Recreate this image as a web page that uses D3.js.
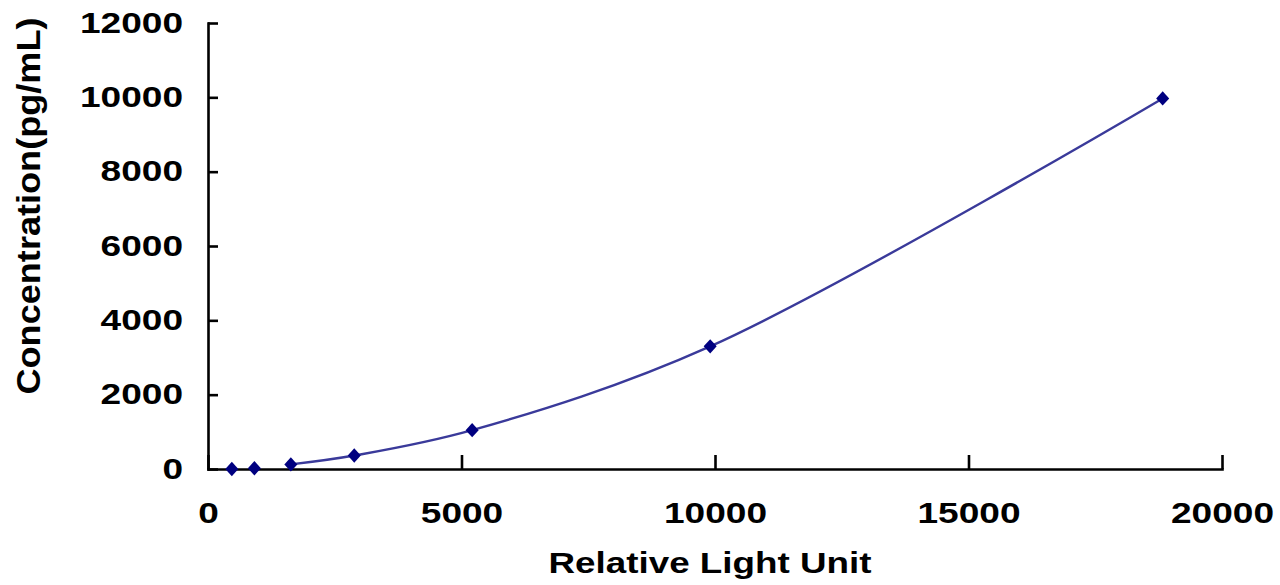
<!DOCTYPE html>
<html lang="en">
<head>
    <meta charset="UTF-8">
    <title>Standard curve</title>
    <style>
        body { margin: 0; background: #fff; }
        .axis path, .axis line { stroke: #000; stroke-width: 2.6; }
        .axis text { font-family: "Liberation Sans", Arial, sans-serif; font-weight: bold; font-size: 29px; fill: #000; }
        .title { font-family: "Liberation Sans", Arial, sans-serif; font-weight: bold; font-size: 29px; fill: #000; }
    </style>
</head>
<body>
    <div id="chart"></div>
    <script src="https://d3js.org/d3.v7.min.js"></script>
    <script>
        // values
        const rlu  = [470, 915, 1634, 2885, 5210, 9905, 18830];
        const conc = [0, 20, 123, 362, 1045, 3300, 9970];
        const xTicks = [0, 5000, 10000, 15000, 20000];
        const yTicks = [0, 2000, 4000, 6000, 8000, 10000, 12000];
        const xTitle = "Relative Light Unit";
        const yTitle = "Concentration(pg/mL)";

        const W = 1280, H = 585;
        const margin = { top: 23, right: 58, bottom: 116, left: 208 };

        const svg = d3.select("#chart")
            .append("svg")
            .attr("width", W)
            .attr("height", H);

        const x = d3.scaleLinear().domain([0, 20000]).range([margin.left, W - margin.right]);
        const y = d3.scaleLinear().domain([0, 12000]).range([H - margin.bottom, margin.top]);

        const digitW = 20.6; // glyphs in the picture are stretched sideways

        svg.append("g")
            .attr("class", "axis")
            .attr("transform", "translate(0," + y(0) + ")")
            .call(d3.axisBottom(x).tickValues(xTicks).tickSizeInner(-14).tickSizeOuter(0).tickPadding(33).tickFormat(d3.format("d")))
            .call(g => g.selectAll("text")
                .attr("textLength", d => String(d).length * digitW)
                .attr("lengthAdjust", "spacingAndGlyphs"));

        svg.append("g")
            .attr("class", "axis")
            .attr("transform", "translate(" + x(0) + ",0)")
            .call(d3.axisLeft(y).tickValues(yTicks).tickSizeInner(-10).tickSizeOuter(0).tickPadding(25).tickFormat(d3.format("d")))
            .call(g => g.selectAll("text")
                .attr("textLength", d => String(d).length * digitW)
                .attr("lengthAdjust", "spacingAndGlyphs"));

        svg.selectAll(".axis .domain").attr("stroke-linecap", "square");

        // fitted curve, starts at the third standard
        const pts = rlu.map((v, i) => [v, conc[i]]);
        const line = d3.line()
            .x(d => x(d[0]))
            .y(d => y(d[1]))
            .curve(d3.curveCatmullRom.alpha(0.5));

        svg.append("path")
            .datum(pts.slice(2))
            .attr("d", line)
            .attr("fill", "none")
            .attr("stroke", "#3a3a9a")
            .attr("stroke-width", 2.4);

        // diamond markers (rotated squares)
        svg.selectAll(".pt")
            .data(pts)
            .join("path")
            .attr("class", "pt")
            .attr("transform", d => "translate(" + x(d[0]) + "," + y(d[1]) + ") scale(1,1.1) rotate(45)")
            .attr("d", d3.symbol().type(d3.symbolSquare).size(85))
            .attr("fill", "#000080");

        // axis titles
        svg.append("text")
            .attr("class", "title")
            .attr("x", 710)
            .attr("y", 573)
            .attr("text-anchor", "middle")
            .attr("textLength", 323)
            .attr("lengthAdjust", "spacingAndGlyphs")
            .text(xTitle);

        svg.append("text")
            .attr("class", "title")
            .attr("transform", "translate(40,206) rotate(-90)")
            .attr("text-anchor", "middle")
            .style("font-size", "33px")
            .attr("textLength", 377)
            .attr("lengthAdjust", "spacingAndGlyphs")
            .text(yTitle);
    </script>
</body>
</html>
